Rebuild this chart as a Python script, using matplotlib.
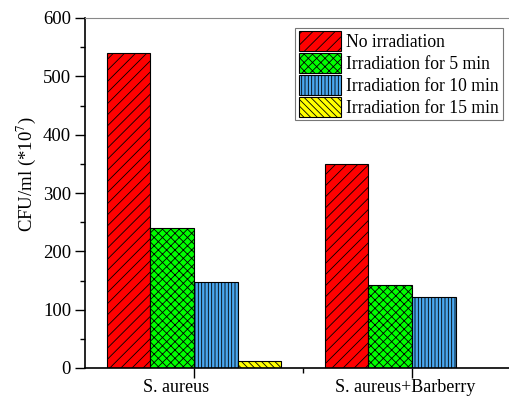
import matplotlib
matplotlib.use("Agg")
import matplotlib.pyplot as plt
import matplotlib.transforms as mtransforms
import numpy as np

plt.rcParams['font.family'] = ['Liberation Serif', 'DejaVu Serif']
plt.rcParams['hatch.linewidth'] = 0.6
plt.rcParams['mathtext.fontset'] = 'stix'

groups = ["S. aureus", "S. aureus+Barberry"]
series = ["No irradiation", "Irradiation for 5 min", "Irradiation for 10 min", "Irradiation for 15 min"]
no_irr = [540, 350]
irr5 = [240, 142]
irr10 = [147, 122]
irr15 = [12, 0]
colors = ["#ff0000", "#00ff00", "#4aa8f0", "#ffff00"]
hatches = ["///", "xxxx", "|||||", "\\\\\\\\\\"]

fig = plt.figure(figsize=(5.1, 4.01), dpi=100)
ax = fig.add_axes([85/510, 33/401, 436/510, 350/401])

x = np.arange(len(groups))
w = 0.2
offsets = [-1.5, -0.5, 0.5, 1.5]
for vals, lab, c, h, o in zip([no_irr, irr5, irr10, irr15], series, colors, hatches, offsets):
    ax.bar(x + o * w, vals, w, color=c, edgecolor="black", hatch=h, linewidth=0.8, label=lab)

ax.set_xlim(-0.5, 1.5)
ax.set_ylim(0, 600)
ax.set_xticks(x)
ax.set_xticklabels(groups, fontsize=13)
ax.set_xticks([0.5], minor=True)
ax.set_yticks(np.arange(0, 601, 100))
ax.set_yticks(np.arange(50, 600, 100), minor=True)
ax.tick_params(axis='y', which='major', labelsize=13.5, length=7, width=1, direction='out', pad=3)
ax.tick_params(axis='x', which='major', labelsize=13, length=7, width=1, direction='out', pad=1)
ax.tick_params(axis='both', which='minor', length=3.5, width=1, direction='out')
ax.spines['top'].set_color('#888888')
ax.spines['left'].set_linewidth(1.2)
ax.spines['bottom'].set_linewidth(1.2)

# shift x tick labels slightly left as in the reference
for lbl, dx in zip(ax.get_xticklabels(), [-18, -7]):
    lbl.set_transform(lbl.get_transform() + mtransforms.ScaledTranslation(dx / 100, 0, fig.dpi_scale_trans))

ax.set_ylabel(r"CFU/ml (*10$^7$)", fontsize=13.5)
ax.yaxis.set_label_coords(-0.108, 0.554)

leg = ax.legend(loc="upper left", bbox_to_anchor=(0.482, 0.972), fontsize=12.7,
                frameon=True, fancybox=False, edgecolor="#555555",
                handlelength=2.4, handleheight=1.35, handletextpad=0.3,
                labelspacing=0.12, borderpad=0.2, borderaxespad=0)
leg.get_frame().set_linewidth(0.8)

fig.savefig("out.png", dpi=100)
